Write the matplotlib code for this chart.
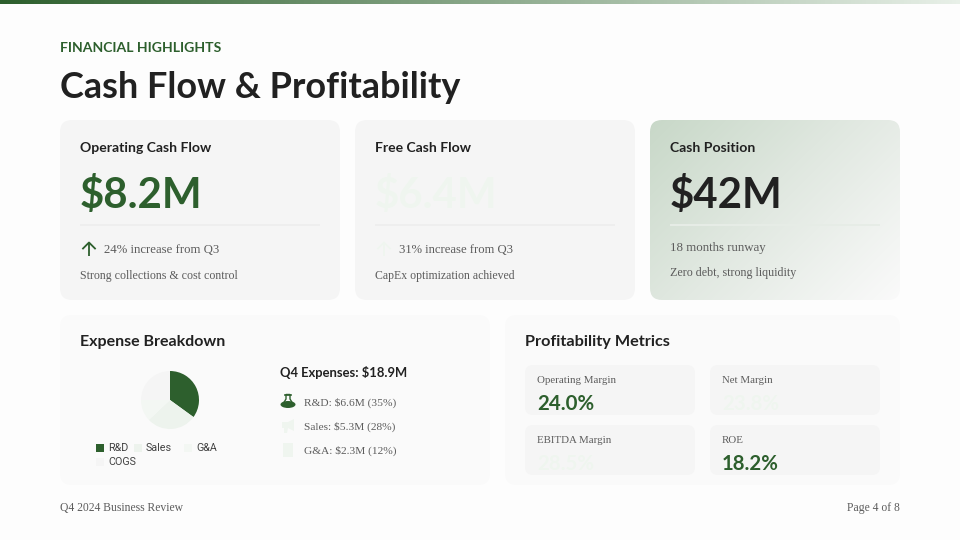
import numpy as np
import matplotlib
matplotlib.use("Agg")
import matplotlib.pyplot as plt
from matplotlib.patches import FancyBboxPatch, Rectangle, Polygon, Ellipse
from matplotlib.colors import LinearSegmentedColormap

# ---- data ----
expense_labels = ["R&D", "Sales", "G&A", "COGS"]
expense_shares = [35, 28, 12, 25]
expense_colors = ["#2d5f2d", "#edf3ed", "#f3f7f3", "#f5f5f5"]
expense_lines = ["R&D: $6.6M (35%)", "Sales: $5.3M (28%)", "G&A: $2.3M (12%)"]
kpi_titles = ["Operating Cash Flow", "Free Cash Flow", "Cash Position"]
kpi_values = ["$8.2M", "$6.4M", "$42M"]
kpi_lines = ["24% increase from Q3", "31% increase from Q3", "18 months runway"]
kpi_notes = ["Strong collections & cost control", "CapEx optimization achieved", "Zero debt, strong liquidity"]
metric_names = ["Operating Margin", "Net Margin", "EBITDA Margin", "ROE"]
metric_values = ["24.0%", "23.8%", "28.5%", "18.2%"]

GREEN = "#2d5f2d"
PALE = "#eff5ef"
DARK = "#212121"
GREY = "#5c5c5c"
HEAD = "Lato"
BODY = "Liberation Serif"
LEG = "Roboto"
px = 0.72

fig = plt.figure(figsize=(9.6, 5.4), dpi=100, facecolor="#fdfdfd")
ax = fig.add_axes([0, 0, 1, 1])
ax.set_xlim(0, 960)
ax.set_ylim(540, 0)
ax.axis("off")


def box(x, y, w, h, r, color, z=1):
    p = FancyBboxPatch((x + r, y + r), w - 2 * r, h - 2 * r,
                       boxstyle=f"round,pad={r},rounding_size={r}",
                       fc=color, ec="none", lw=0, zorder=z)
    ax.add_patch(p)
    return p


def txt(x, y, s, size, color=DARK, fam=HEAD, weight="normal", ha="left", z=6):
    return ax.text(x, y, s, fontsize=size * px, color=color, family=fam,
                   fontweight=weight, ha=ha, va="baseline", zorder=z)


def up_arrow(x, ytop, ybot, color):
    ax.plot([x, x], [ytop + 1, ybot], color=color, lw=1.3, zorder=6, solid_capstyle="butt")
    ax.plot([x - 6, x, x + 6], [ytop + 6.5, ytop + 0.5, ytop + 6.5], color=color, lw=1.3, zorder=6)


# top gradient bar
bar_cmap = LinearSegmentedColormap.from_list("bar", [GREEN, "#8aa88a", "#e8f0e8"])
ax.imshow(np.linspace(0, 1, 256)[None, :], extent=(0, 960, 4, 0), cmap=bar_cmap,
          aspect="auto", zorder=1)
ax.set_xlim(0, 960)
ax.set_ylim(540, 0)

# heading
txt(60, 52, "FINANCIAL HIGHLIGHTS", 14, GREEN, weight="bold")
txt(60, 98, "Cash Flow & Profitability", 36, DARK, weight="bold")

# KPI cards
card_x = [60, 355, 650]
card_w = [280, 280, 250]
value_colors = [GREEN, PALE, DARK]
line_sizes = [12.8, 12.6, 12.9]
note_sizes = [11.85, 11.8, 12.0]
for i in range(3):
    x, w = card_x[i], card_w[i]
    p = box(x, 120, w, 180, 12, "#f5f5f5")
    if i == 2:
        p.set_facecolor("none")
        yy, xx = np.mgrid[0:1:180j, 0:1:250j]
        grad = (xx * 250 + yy * 180) / 430
        cm = LinearSegmentedColormap.from_list("card", ["#c8d8c8", "#e2e9e2", "#fafafa"])
        im = ax.imshow(grad, extent=(x, x + w, 300, 120), cmap=cm, aspect="auto", zorder=2)
        im.set_clip_path(p)
        ax.set_xlim(0, 960)
        ax.set_ylim(540, 0)
    txt(x + 20, 152, kpi_titles[i], 14, DARK, weight="bold")
    txt(x + 20, 208.5, kpi_values[i], 42, value_colors[i], weight="bold")
    ax.add_patch(Rectangle((x + 20, 224), w - 40, 2,
                           fc="#eeeeee" if i < 2 else "#e6ece6", ec="none", zorder=3))
    if i < 2:
        up_arrow(x + 29, 242, 256, [GREEN, PALE][i])
        txt(x + 44, 253, kpi_lines[i], line_sizes[i], GREY, BODY)
        txt(x + 20, 279, kpi_notes[i], note_sizes[i], GREY, BODY)
    else:
        txt(x + 20, 251, kpi_lines[i], line_sizes[i], GREY, BODY)
        txt(x + 20, 276, kpi_notes[i], note_sizes[i], GREY, BODY)

# lower panels
box(60, 315, 430, 170, 12, "#fafafa")
box(505, 315, 395, 170, 12, "#fafafa")
txt(80, 346, "Expense Breakdown", 16, DARK, weight="bold")
txt(525, 346, "Profitability Metrics", 16.3, DARK, weight="bold")

# pie
pie_ax = fig.add_axes([141 / 960, 1 - 429 / 540, 58 / 960, 58 / 540])
pie_ax.pie(expense_shares, colors=expense_colors, startangle=90, counterclock=False,
           radius=1, wedgeprops={"linewidth": 0})
pie_ax.set_xlim(-1, 1)
pie_ax.set_ylim(-1, 1)
pie_ax.patch.set_alpha(0)

# legend
leg_pos = [(96, 451), (134, 451), (184, 451), (96, 465)]
for (lx, ly), lab, col in zip(leg_pos, expense_labels, expense_colors):
    ax.add_patch(Rectangle((lx, ly - 7.5), 8, 8, fc=col, ec="none", zorder=5))
    txt(lx + 12, ly, lab, 10.8, "#424242", LEG)

# expense side list
txt(280, 377, "Q4 Expenses: $18.9M", 13, DARK, weight="bold")
rows_y = [406, 430, 454]
for yy, line in zip(rows_y, expense_lines):
    txt(304, yy, line, 11.4, GREY, BODY)

# flask icon
ax.add_patch(Polygon([(286, 394.5), (290, 394.5), (290, 399), (293, 404), (283, 404), (286, 399)],
                     fc="none", ec=GREEN, lw=1.0, zorder=6))
ax.plot([285, 291], [394.5, 394.5], color=GREEN, lw=1.2, zorder=6)
ax.add_patch(Ellipse((288, 404.5), 15, 7, fc=GREEN, ec="none", zorder=7))
# bullhorn icon
ax.add_patch(Polygon([(282, 422), (288, 422), (294, 419), (294, 431), (288, 428), (287, 433),
                      (284, 433), (284, 428), (282, 428)], fc=PALE, ec="none", zorder=6))
# building icon
ax.add_patch(Rectangle((283, 443), 10, 14, fc=PALE, ec="none", zorder=6))

# metric tiles
tile_x = [525, 710, 525, 710]
tile_y = [365, 365, 425, 425]
tile_colors = [GREEN, PALE, PALE, GREEN]
for tx, ty, n, v, c in zip(tile_x, tile_y, metric_names, metric_values, tile_colors):
    box(tx, ty, 170, 50, 8, "#f5f5f5", z=2)
    txt(tx + 12, ty + 18, n, 10.9, GREY, BODY)
    txt(tx + 12, ty + 45, v, 20.4, c, weight="bold")

# footer
txt(60, 511, "Q4 2024 Business Review", 11.6, GREY, BODY)
txt(900, 511, "Page 4 of 8", 11.6, GREY, BODY, ha="right")

fig.savefig("out.png", dpi=100, facecolor=fig.get_facecolor())
